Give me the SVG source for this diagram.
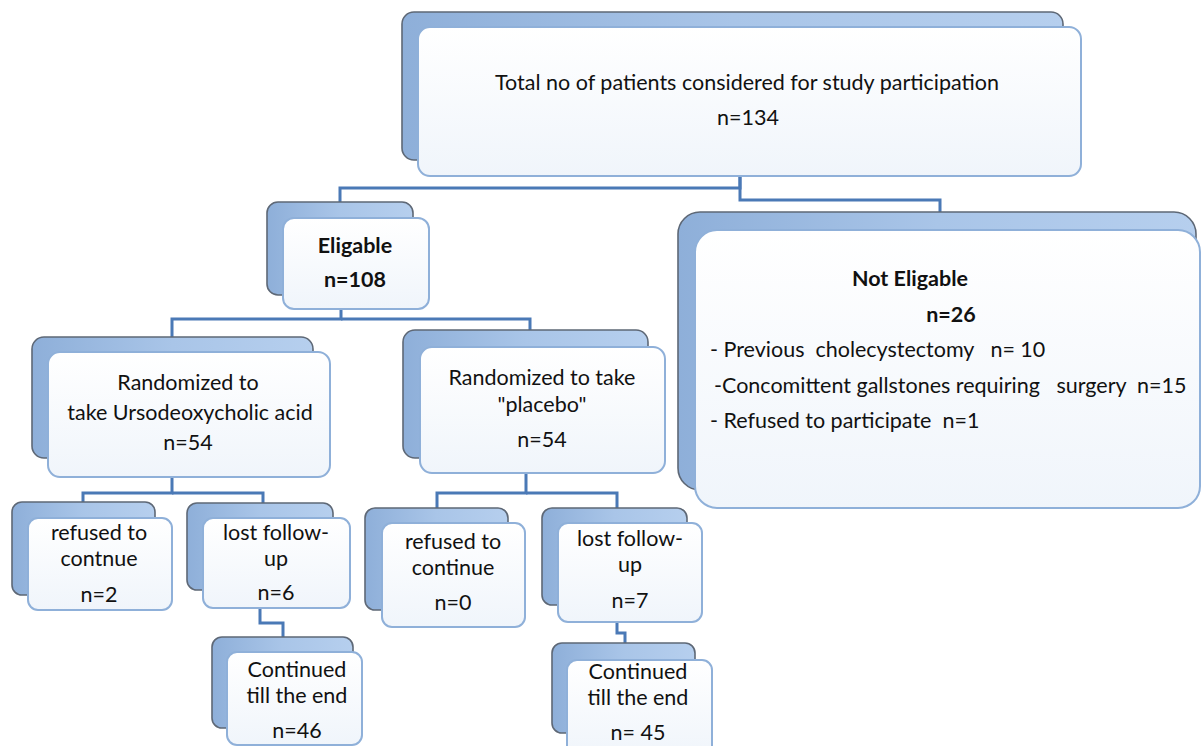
<svg xmlns="http://www.w3.org/2000/svg" width="1204" height="746" viewBox="0 0 1204 746">
<defs>
<linearGradient id="gBack" x1="0" y1="0" x2="1" y2="0">
<stop offset="0" stop-color="#8eafd9"/>
<stop offset="0.5" stop-color="#a9c5e8"/>
<stop offset="1" stop-color="#b6cfee"/>
</linearGradient>
<linearGradient id="gFront" x1="0" y1="0" x2="0" y2="1">
<stop offset="0" stop-color="#ffffff"/>
<stop offset="1" stop-color="#f0f5fb"/>
</linearGradient>
<style>
.back{fill:url(#gBack);stroke:#5e6876;stroke-width:1.6}
.front{fill:url(#gFront);stroke:#8fb0d9;stroke-width:2}
.conn{fill:none;stroke:#4a79b6;stroke-width:3}
text{font-family:Lato,"Liberation Sans",sans-serif;font-size:21.5px;fill:#111;text-anchor:middle}
.b{font-weight:bold}
.l{text-anchor:start}
</style>
</defs>
<rect width="1204" height="746" fill="#ffffff"/>
<g id="connectors">
<path class="conn" d="M740,176 V188 H340 V202"/>
<path class="conn" d="M740,176 V200 H940 V212"/>
<path class="conn" d="M341,309 V319 H172 V337"/>
<path class="conn" d="M341,319 H530 V330"/>
<path class="conn" d="M172,477 V493 H83 V503"/>
<path class="conn" d="M172,493 H263 V503"/>
<path class="conn" d="M260,608 V623 H283 V637"/>
<path class="conn" d="M526,473 V493 H437 V508"/>
<path class="conn" d="M526,493 H617 V508"/>
<path class="conn" d="M617,622 V633 H625 V643"/>
</g>
<g id="total">
<rect class="back" x="402" y="12" width="661" height="148" rx="12"/>
<rect class="front" x="418" y="27" width="663" height="149" rx="12"/>
<text x="747" y="90" font-size="23">Total no of patients considered for study participation</text>
<text x="748" y="125" font-size="23">n=134</text>
</g>
<g id="eligible">
<rect class="back" x="267" y="202" width="146" height="93" rx="11"/>
<rect class="front" x="283" y="218" width="146" height="91" rx="11"/>
<text class="b" x="355" y="253">Eligable</text>
<text class="b" x="355" y="287">n=108</text>
</g>
<g id="not-eligible">
<rect class="back" x="678" y="212" width="518" height="278" rx="22"/>
<rect class="front" x="695" y="230" width="505" height="278" rx="22"/>
<text class="b" x="910" y="286">Not Eligable</text>
<text class="b" x="951" y="322">n=26</text>
<text class="l" x="710" y="357" xml:space="preserve">- Previous  cholecystectomy   n= 10</text>
<text class="l" x="714" y="393" xml:space="preserve">-Concomittent gallstones requiring   surgery  n=15</text>
<text class="l" x="710" y="428" xml:space="preserve">- Refused to participate  n=1</text>
</g>
<g id="udca">
<rect class="back" x="32" y="337" width="281" height="121" rx="12"/>
<rect class="front" x="48" y="352" width="282" height="125" rx="12"/>
<text x="188" y="390">Randomized to</text>
<text x="190" y="420">take Ursodeoxycholic acid</text>
<text x="188" y="450">n=54</text>
</g>
<g id="placebo">
<rect class="back" x="403" y="330" width="245" height="128" rx="12"/>
<rect class="front" x="420" y="347" width="245" height="126" rx="12"/>
<text x="542" y="385">Randomized to take</text>
<text x="542" y="412">"placebo"</text>
<text x="542" y="447">n=54</text>
</g>
<g id="udca-refused">
<rect class="back" x="12" y="502" width="143" height="93" rx="10"/>
<rect class="front" x="28" y="518" width="144" height="92" rx="10"/>
<text x="99" y="540">refused to</text>
<text x="99" y="566">contnue</text>
<text x="99" y="602">n=2</text>
</g>
<g id="udca-lost">
<rect class="back" x="187" y="503" width="146" height="87" rx="10"/>
<rect class="front" x="203" y="518" width="147" height="90" rx="10"/>
<text x="276" y="540">lost follow-</text>
<text x="276" y="566">up</text>
<text x="276" y="600">n=6</text>
</g>
<g id="udca-continued">
<rect class="back" x="212" y="637" width="141" height="91" rx="10"/>
<rect class="front" x="227" y="652" width="135" height="93" rx="10"/>
<text x="297" y="677">Continued</text>
<text x="297" y="703">till the end</text>
<text x="297" y="738">n=46</text>
</g>
<g id="placebo-refused">
<rect class="back" x="365" y="508" width="143" height="102" rx="10"/>
<rect class="front" x="382" y="523" width="143" height="104" rx="10"/>
<text x="453" y="549">refused to</text>
<text x="453" y="575">continue</text>
<text x="453" y="610">n=0</text>
</g>
<g id="placebo-lost">
<rect class="back" x="542" y="508" width="145" height="97" rx="10"/>
<rect class="front" x="558" y="523" width="144" height="99" rx="10"/>
<text x="630" y="546">lost follow-</text>
<text x="630" y="572">up</text>
<text x="630" y="608">n=7</text>
</g>
<g id="placebo-continued">
<rect class="back" x="552" y="643" width="143" height="90" rx="10"/>
<rect class="front" x="567" y="660" width="145" height="96" rx="10"/>
<text x="638" y="679">Continued</text>
<text x="638" y="705">till the end</text>
<text x="638" y="740">n= 45</text>
</g>
</svg>
